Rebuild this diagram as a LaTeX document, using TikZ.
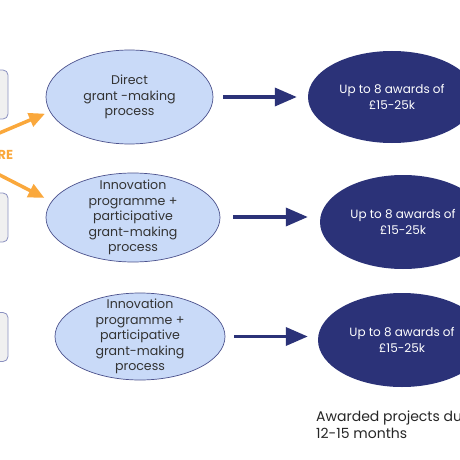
\documentclass[tikz,border=0pt]{standalone}
\usepackage{fontspec}
\setmainfont{Poppins}
\usetikzlibrary{arrows.meta,positioning,calc,shapes.geometric}
\definecolor{halvany}{HTML}{C9DAF8}
\definecolor{sotet}{HTML}{2B3278}
\definecolor{narancs}{HTML}{FAA83C}
\definecolor{keret}{HTML}{8A90C0}
\tikzset{
  folyamat/.style={ellipse,draw=sotet!85,line width=0.7pt,fill=halvany,inner sep=-25pt,align=center,
                   text=black!80,font=\fontsize{12.6}{15.6}\selectfont},
  dij/.style={ellipse,fill=sotet,inner sep=-25pt,align=center,text=white,
              font=\fontsize{12}{15.6}\selectfont},
  doboz/.style={draw=keret,line width=0.8pt,rounded corners=5pt,fill=black!6,minimum width=38pt,
                minimum height=49pt,inner sep=0pt},
  vnyil/.style={-{Triangle[length=22pt,width=18pt]},line width=3.5pt,draw=sotet},
  onyil/.style={-{Triangle[length=16pt,width=14pt]},line width=3.5pt,draw=narancs},
}
\begin{document}
\begin{tikzpicture}[x=1pt,y=-1pt]
  \useasboundingbox (0,0) rectangle (460,460);
  \clip (0,0) rectangle (460,460);
  % bal oldali dobozok
  \node[doboz] (b1) at (-11,94.5) {};
  \node[doboz] (b2) at (-11,217.5) {};
  \node[doboz] (b3) at (-11,337) {};
  \node[font=\bfseries\fontsize{13}{15}\selectfont,text=narancs,anchor=west,inner sep=0pt] (re) at (-2.5,155) {RE};
  % folyamatok
  \node[folyamat,minimum width=167pt,minimum height=94pt] (p1) at (129.5,97)
    {Direct\\grant -making\\process};
  \node[folyamat,minimum width=174pt,minimum height=89pt] (p2) at (133,217.5)
    {Innovation\\programme +\\participative\\grant-making\\process};
  \node[folyamat,minimum width=170pt,minimum height=87pt] (p3) at (140,336.5)
    {Innovation\\programme +\\participative\\grant-making\\process};
  % dijak
  \node[dij,minimum width=168pt,minimum height=92pt] (a1) at (392,97) {Up to 8 awards of\\£15-25k};
  \node[dij,minimum width=166pt,minimum height=94pt] (a2) at (403,222) {Up to 8 awards of\\£15-25k};
  \node[dij,minimum width=168pt,minimum height=94pt] (a3) at (402,340) {Up to 8 awards of\\£15-25k};
  % nyilak
  \coordinate (o1) at (-10,137);
  \coordinate (o2) at (-10,170);
  \draw[onyil] (o1) -- ([xshift=-6pt]p1.192);
  \draw[onyil] (o2) -- ([xshift=-10pt]p2.166);
  \draw[vnyil] ([xshift=10pt]p1.east) -- ([xshift=-11pt]p1.east -| a1.west);
  \draw[vnyil] ([xshift=13pt]p2.east |- 0,217) -- ([xshift=-12pt]a2.west |- 0,217);
  \draw[vnyil] ([xshift=9pt]p3.east) -- ([xshift=-10pt]p3.east -| a3.west);
  % idotartam
  \node[anchor=west,align=left,inner sep=0pt,font=\fontsize{14}{17}\selectfont,text=black!85] (ido) at (316,425)
    {Awarded projects during\\12-15 months};
\end{tikzpicture}
\end{document}
